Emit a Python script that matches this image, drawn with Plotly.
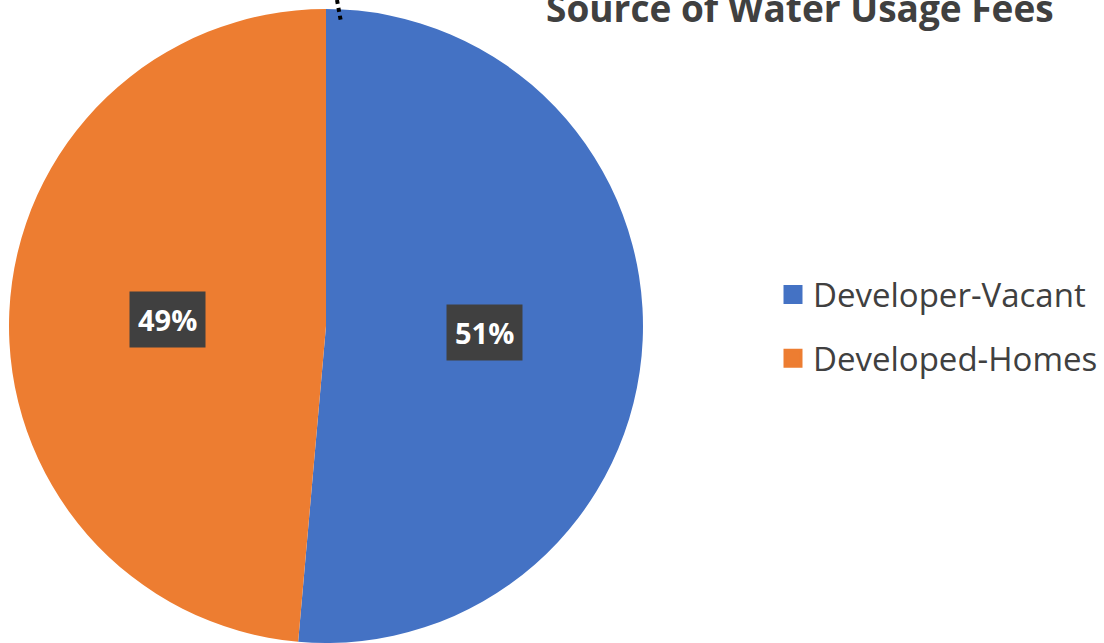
import math
import plotly.graph_objects as go

categories = ["Developer-Vacant", "Developed-Homes"]
values = [51.4, 48.6]
colors = ["#4472C4", "#ED7D31"]
title_text = "Source of Water Usage Fees"

W, H = 1104, 643
cx_px, cy_px, r_px = 326, 326, 317

fig = go.Figure()
fig.add_trace(go.Pie(
    labels=categories,
    values=values,
    sort=False,
    direction="clockwise",
    rotation=0,
    textinfo="none",
    hoverinfo="label+percent",
    showlegend=False,
    marker=dict(colors=colors, line=dict(width=0)),
    domain=dict(x=[(cx_px - r_px) / W, (cx_px + r_px) / W],
                y=[1 - (cy_px + r_px) / H, 1 - (cy_px - r_px) / H]),
))

# legend entries (one per category)
for name, col in zip(categories, colors):
    fig.add_trace(go.Scatter(
        x=[None], y=[None], mode="markers", name=name, legendgroup=name,
        marker=dict(symbol="square", size=16, color=col, line=dict(width=3, color=col)),
        showlegend=True,
    ))

# data labels placed at each slice's mid-angle
total = sum(values)
cum = 0
for v in values:
    mid = (cum + v / 2) / total * 2 * math.pi
    cum += v
    px = cx_px + 0.5 * r_px * math.sin(mid)
    py = cy_px - 0.5 * r_px * math.cos(mid)
    fig.add_annotation(
        x=px / W, y=1 - py / H, xref="paper", yref="paper",
        xanchor="center", yanchor="middle",
        text="<b>%d%%</b>" % round(v / total * 100),
        showarrow=False,
        font=dict(family="Open Sans", size=29, color="white"),
        bgcolor="#404040", borderpad=8,
    )

fig.add_shape(type="line", xref="paper", yref="paper",
              x0=337 / W, y0=1.0, x1=341 / W, y1=1 - 22 / H,
              line=dict(color="black", width=4, dash="dot"))

fig.update_layout(
    width=W, height=H,
    margin=dict(l=0, r=0, t=0, b=0),
    paper_bgcolor="white", plot_bgcolor="white",
    xaxis=dict(visible=False), yaxis=dict(visible=False),
    title=dict(text="<b>" + title_text + "</b>", x=546 / W, xanchor="left",
               xref="paper", yref="container", y=1 - 9 / H, yanchor="middle",
               font=dict(family="Open Sans", size=37, color="#404040")),
    legend=dict(x=773 / W, xanchor="left", y=1 - 326.5 / H, yanchor="middle",
                font=dict(family="Open Sans", size=33, color="#404040"),
                tracegroupgap=18),
    showlegend=True,
)

fig.write_html("out.html", config={"displayModeBar": False},
               post_script="document.body.style.margin='0px';")
